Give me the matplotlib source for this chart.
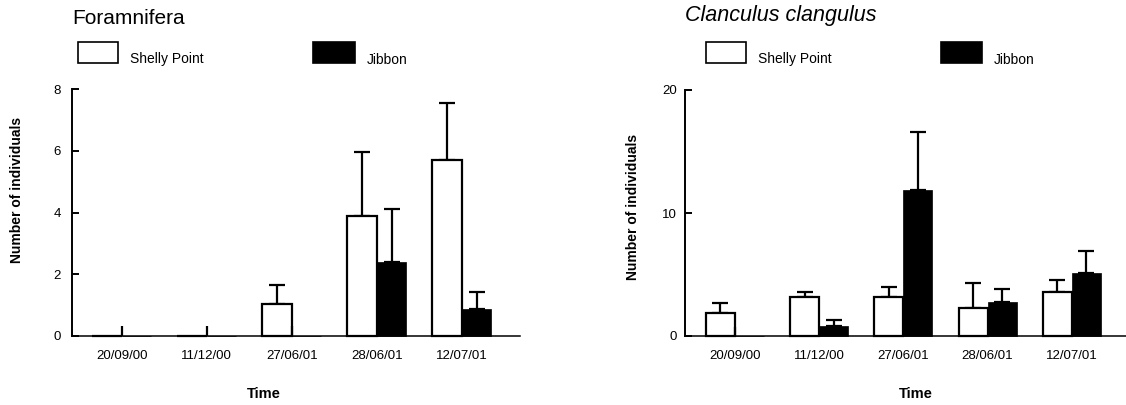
import numpy as np
import matplotlib
matplotlib.use("Agg")
import matplotlib.pyplot as plt
from matplotlib.patches import Rectangle

plt.rcParams['font.family'] = ['Liberation Sans', 'DejaVu Sans']

# Sampling dates (x categories)
dates = ["20/09/00", "11/12/00", "27/06/01", "28/06/01", "12/07/01"]

# Foramnifera: mean counts and standard errors
fora_shelly = [0.0, 0.0, 1.02, 3.90, 5.69]
fora_shelly_se = [0.0, 0.0, 0.63, 2.07, 1.86]
fora_jibbon = [0.0, 0.0, 0.0, 2.39, 0.88]
fora_jibbon_se = [0.31, 0.31, 0.32, 1.73, 0.55]

# Clanculus clangulus: mean counts and standard errors
clan_shelly = [1.88, 3.15, 3.15, 2.29, 3.58]
clan_shelly_se = [0.81, 0.41, 0.81, 1.99, 1.00]
clan_jibbon = [0.0, 0.81, 11.86, 2.77, 5.12]
clan_jibbon_se = [0.75, 0.48, 4.71, 1.09, 1.83]

W, H = 1126, 405
fig = plt.figure(figsize=(W / 100, H / 100), dpi=100)


def px(x0, y0, x1, y1):
    """Pixel box (top-left origin) to figure-fraction rect."""
    return [x0 / W, 1 - y1 / H, (x1 - x0) / W, (y1 - y0) / H]


def panel(rect, xlim, ymax, yticks, shelly, shelly_se, jibbon, jibbon_se,
          width, ypad):
    ax = fig.add_axes(rect)
    x = np.arange(len(dates))
    lw = 1.6
    ax.bar(x - width / 2, shelly, width, color='white', edgecolor='black',
           linewidth=lw, clip_on=False, zorder=3)
    ax.bar(x + width / 2, jibbon, width, color='black', edgecolor='black',
           linewidth=0.5, clip_on=False, zorder=3)

    sh = np.array(shelly)
    sh_se = np.array(shelly_se)
    m = sh_se > 0
    ax.errorbar(x[m] - width / 2, sh[m], yerr=[np.zeros(m.sum()), sh_se[m]],
                fmt='none', ecolor='black', elinewidth=lw, capsize=5.5,
                capthick=lw, clip_on=False, zorder=2)

    jb = np.array(jibbon)
    jb_se = np.array(jibbon_se)
    nz = jb > 0
    ax.errorbar(x[nz] + width / 2, jb[nz], yerr=[np.zeros(nz.sum()), jb_se[nz]],
                fmt='none', ecolor='black', elinewidth=lw, capsize=5.5,
                capthick=lw, clip_on=False, zorder=2)
    # empty samples keep a bare stub at the bar's edge
    z = ~nz
    ax.vlines(x[z], 0, jb_se[z], colors='black', linewidth=lw, zorder=4,
              clip_on=False)

    ax.set_xlim(*xlim)
    ax.set_ylim(0, ymax)
    ax.set_yticks(yticks)
    ax.set_xticks(x)
    ax.set_xticklabels(dates)
    for s in ('top', 'right'):
        ax.spines[s].set_visible(False)
    ax.spines['left'].set_linewidth(1.4)
    ax.spines['bottom'].set_linewidth(1.1)
    ax.tick_params(axis='y', direction='in', length=5, width=1.4,
                   labelsize=9.5, pad=ypad)
    ax.tick_params(axis='x', length=0, labelsize=9.5, pad=10)
    return ax


panel(px(72, 89.3, 520, 335.7), (-0.585, 4.686), 8, [0, 2, 4, 6, 8],
      fora_shelly, fora_shelly_se, fora_jibbon, fora_jibbon_se, 0.35, 8)
panel(px(685, 90, 1126, 336), (-0.594, 4.644), 20, [0, 10, 20],
      clan_shelly, clan_shelly_se, clan_jibbon, clan_jibbon_se, 0.345, 6)

# Titles
fig.text(72 / W, 1 - 18 / H, "Foramnifera", fontsize=15, va='center', ha='left')
fig.text(685 / W, 1 - 16 / H, "Clanculus clangulus", fontsize=15.5,
         style='italic', va='center', ha='left')

# Axis labels
fig.text(17 / W, 1 - 190 / H, "Number of individuals", rotation=90,
         fontsize=10, fontweight='bold', ha='center', va='center')
fig.text(633 / W, 1 - 207 / H, "Number of individuals", rotation=90,
         fontsize=10, fontweight='bold', ha='center', va='center')
fig.text(264 / W, 1 - 394 / H, "Time", fontsize=10.5, fontweight='bold',
         ha='center', va='center')
fig.text(916 / W, 1 - 394 / H, "Time", fontsize=10.5, fontweight='bold',
         ha='center', va='center')


# Legends
def legend_item(x0, x1, color, label):
    r = Rectangle((x0 / W, 1 - 63 / H), (x1 - x0) / W, 21 / H,
                  transform=fig.transFigure, facecolor=color,
                  edgecolor='black', linewidth=1.2)
    fig.patches.append(r)
    fig.text((x1 + 12) / W, 1 - 59.5 / H, label, fontsize=10,
             ha='left', va='center')


legend_item(78, 118, 'white', "Shelly Point")
legend_item(313, 355, 'black', "Jibbon")
legend_item(706, 745.7, 'white', "Shelly Point")
legend_item(940.7, 981.7, 'black', "Jibbon")

fig.savefig("out.png", dpi=100, facecolor='white')
